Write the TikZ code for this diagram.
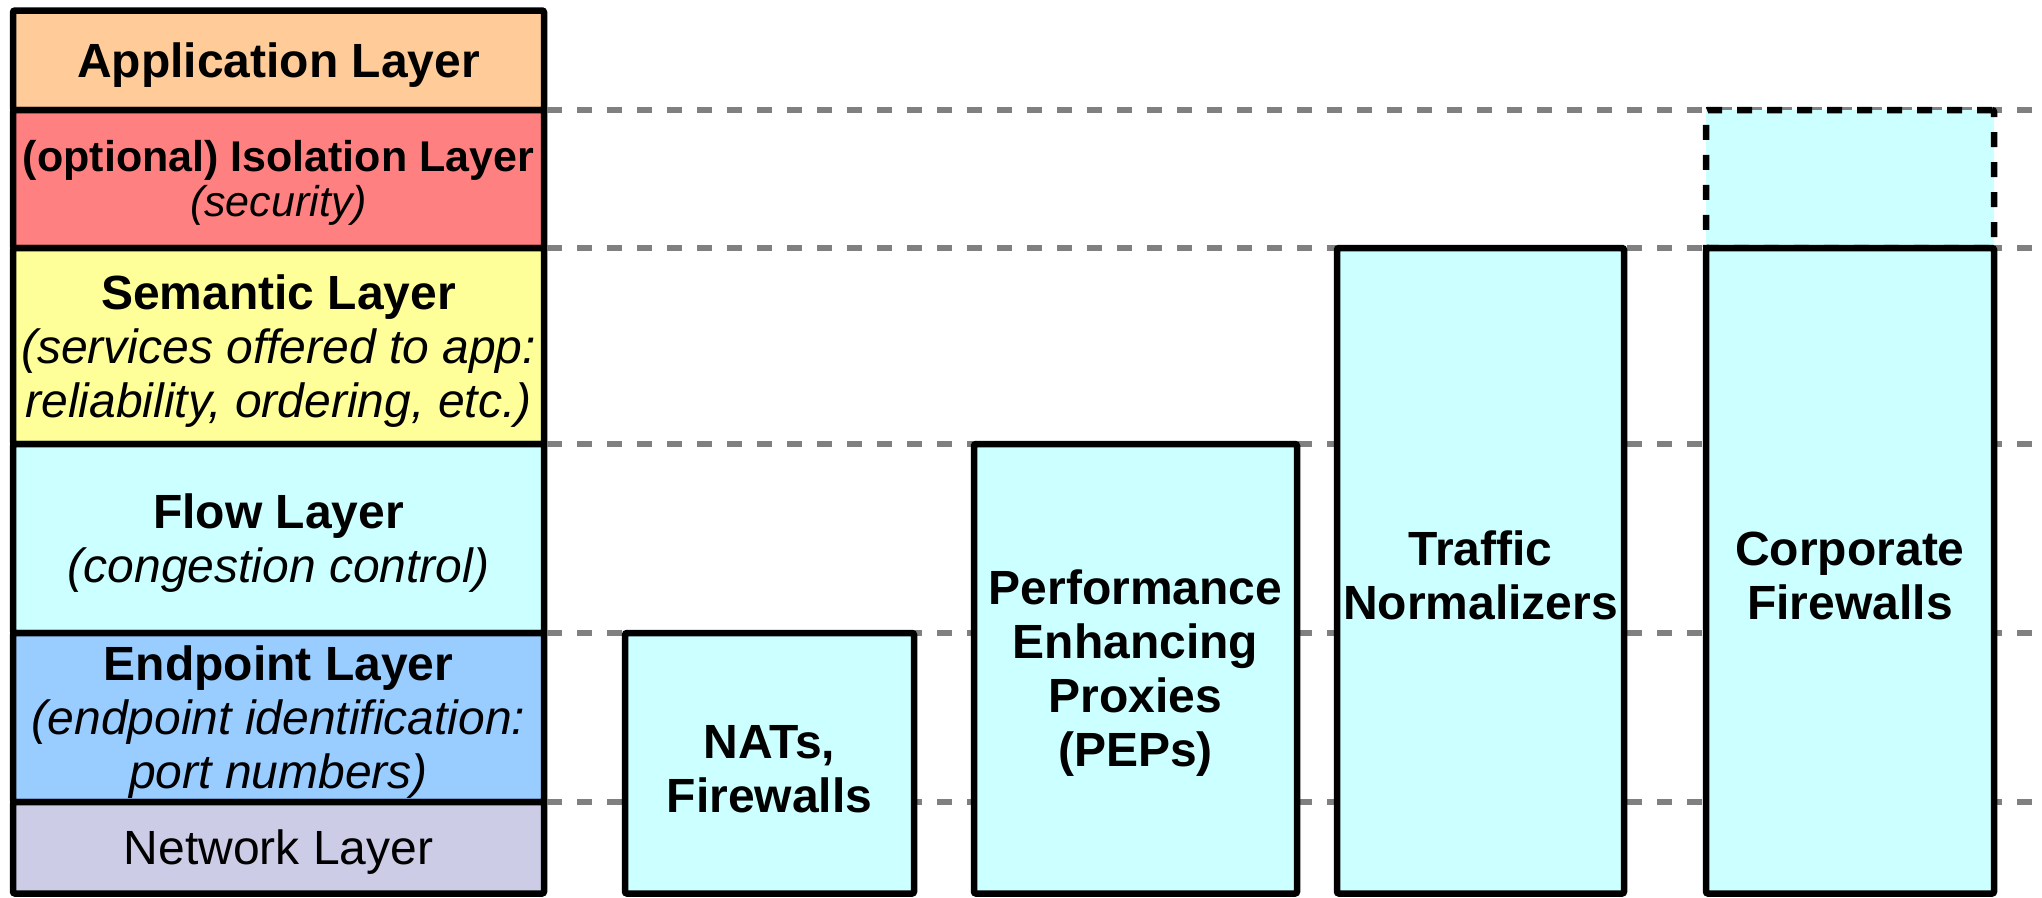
\documentclass[tikz,border=0pt]{standalone}
\usepackage{fontspec}
\setmainfont{Liberation Sans}
\definecolor{appc}{HTML}{FFCC99}
\definecolor{isoc}{HTML}{FF8080}
\definecolor{semc}{HTML}{FFFF99}
\definecolor{flowc}{HTML}{CCFFFF}
\definecolor{endc}{HTML}{99CCFF}
\definecolor{netc}{HTML}{CCCCE6}
\definecolor{guidec}{HTML}{808080}
\newcommand{\toppad}{\rule{0pt}{0.92em}}
\begin{document}
\begin{tikzpicture}[x=1pt,y=-1pt,
  layer/.style={draw=black, line width=6.5pt, rounded corners=2pt, minimum width=531pt,
    inner sep=0pt, outer sep=0pt, align=center, font=\fontsize{48}{54}\selectfont},
  mbox/.style={draw=black, line width=6.5pt, fill=flowc, rounded corners=2pt, inner sep=0pt,
    outer sep=0pt, align=center, font=\fontsize{48}{54}\selectfont\bfseries},
  guide/.style={draw=guidec, line width=6.5pt, dash pattern=on 15pt off 15pt}]
\useasboundingbox (0,0) rectangle (2042,897);
\coordinate (rend) at (2042,0);

% protocol stack
\node[layer, fill=appc, minimum height=99.5pt] (app) at (278.5,60.25)
  {\toppad\bfseries Application Layer};
\node[layer, fill=isoc, minimum height=138pt, font=\fontsize{43}{45}\selectfont] (iso) at (278.5,179)
  {\toppad\bfseries (optional) Isolation Layer\\\itshape (security)};
\node[layer, fill=semc, minimum height=196pt] (sem) at (278.5,346)
  {\toppad\bfseries Semantic Layer\\\itshape (services offered to app:\\\itshape reliability, ordering, etc.)};
\node[layer, fill=flowc, minimum height=189pt] (flow) at (278.5,538.5)
  {\toppad\bfseries Flow Layer\\\itshape (congestion control)};
\node[layer, fill=endc, minimum height=169pt] (endp) at (278.5,717.5)
  {\toppad\bfseries Endpoint Layer\\\itshape (endpoint identification:\\\itshape port numbers)};
\node[layer, fill=netc, minimum height=91.5pt] (net) at (278.5,847.75)
  {\toppad Network Layer};

% guide lines
\foreach \n in {iso,sem,flow,endp,net}
  \draw[guide] ([xshift=3.25pt]\n.north east) -- (\n.north east -| rend);

% middleboxes
\node[mbox, minimum width=289pt, minimum height=260.5pt] (nat) at (769.5,763.25)
  {\toppad NATs,\\Firewalls};
\node[mbox, minimum width=323pt, minimum height=449.5pt] (pep) at (1135.5,668.75)
  {\toppad Performance\\Enhancing\\Proxies\\(PEPs)};
\node[mbox, minimum width=287pt, minimum height=645.5pt] (tn) at (1480.5,570.75)
  {\toppad Traffic\\Normalizers};
\node[mbox, minimum width=288pt, minimum height=138pt, dash pattern=on 15pt off 15pt] (cfx) at (1850,179) {};
\node[mbox, minimum width=288pt, minimum height=645.5pt] (cf) at (1850,570.75)
  {\toppad Corporate\\Firewalls};
\end{tikzpicture}
\end{document}
